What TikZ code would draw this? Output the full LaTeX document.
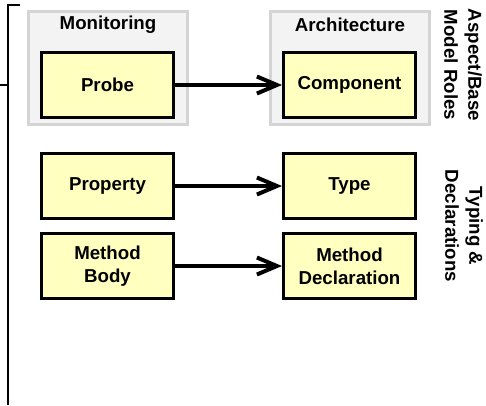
\documentclass[tikz,border=0pt]{standalone}
\usepackage{fontspec}
\setmainfont{Liberation Sans}
\usetikzlibrary{arrows.meta}
\definecolor{boxyellow}{HTML}{FFFFC0}
\definecolor{groupfill}{HTML}{F3F3F3}
\definecolor{groupline}{HTML}{D4D4D4}
\tikzset{
  ybox/.style={draw=black, line width=3.3pt, fill=boxyellow, minimum width=131.7pt, minimum height=64.7pt, inner sep=0pt, align=center, font=\fontsize{18.7}{23}\selectfont\bfseries},
  gbox/.style={draw=groupline, line width=3pt, fill=groupfill, minimum width=159pt, minimum height=113pt, inner sep=0pt},
  gtitle/.style={font=\fontsize{18.7}{23}\selectfont\bfseries, inner sep=0pt},
  sidelabel/.style={rotate=-90, align=center, font=\fontsize{18.7}{24}\selectfont\bfseries, inner sep=0pt},
  conn/.style={line width=3.5pt, -{Straight Barb[length=20pt, width=17pt, line width=4pt]}},
  bracket/.style={line width=2pt, black}
}
\begin{document}
\begin{tikzpicture}[x=1pt, y=-1pt]
\useasboundingbox (0,0) rectangle (486,405);
% groups
\node[gbox] (mon) at (108,68) {};
\node[gtitle] (montitle) at (108,25) {Monitoring};
\node[gbox] (arch) at (350,68) {};
\node[gtitle] (archtitle) at (350,25) {Architecture};
% boxes
\node[ybox] (probe) at (107.5,85) {Probe};
\node[ybox] (comp) at (349.5,85) {Component};
\node[ybox] (prop) at (107.5,186) {Property};
\node[ybox] (type) at (349.5,186) {Type};
\node[ybox] (mbody) at (107.5,266) {Method\\Body};
\node[ybox] (mdecl) at (349.5,266) {Method\\Declaration};
% connectors
\draw[conn] (probe) -- (comp);
\draw[conn] (prop) -- (type);
\draw[conn] (mbody) -- (mdecl);
% side labels
\node[sidelabel] (lab1) at (463,65) {Aspect/Base\\Model Roles};
\node[sidelabel] (lab2) at (464,226) {Typing \&\\Declarations};
% bracket
\coordinate (btop) at (20,4.5);
\coordinate (bcorner) at (7.5,4.5);
\coordinate (bbottom) at (7.5,405);
\coordinate (tickl) at (0,85);
\coordinate (tickr) at (7.5,85);
\draw[bracket] (btop) -- (bcorner) -- (bbottom);
\draw[bracket] (tickl) -- (tickr);
\end{tikzpicture}
\end{document}
